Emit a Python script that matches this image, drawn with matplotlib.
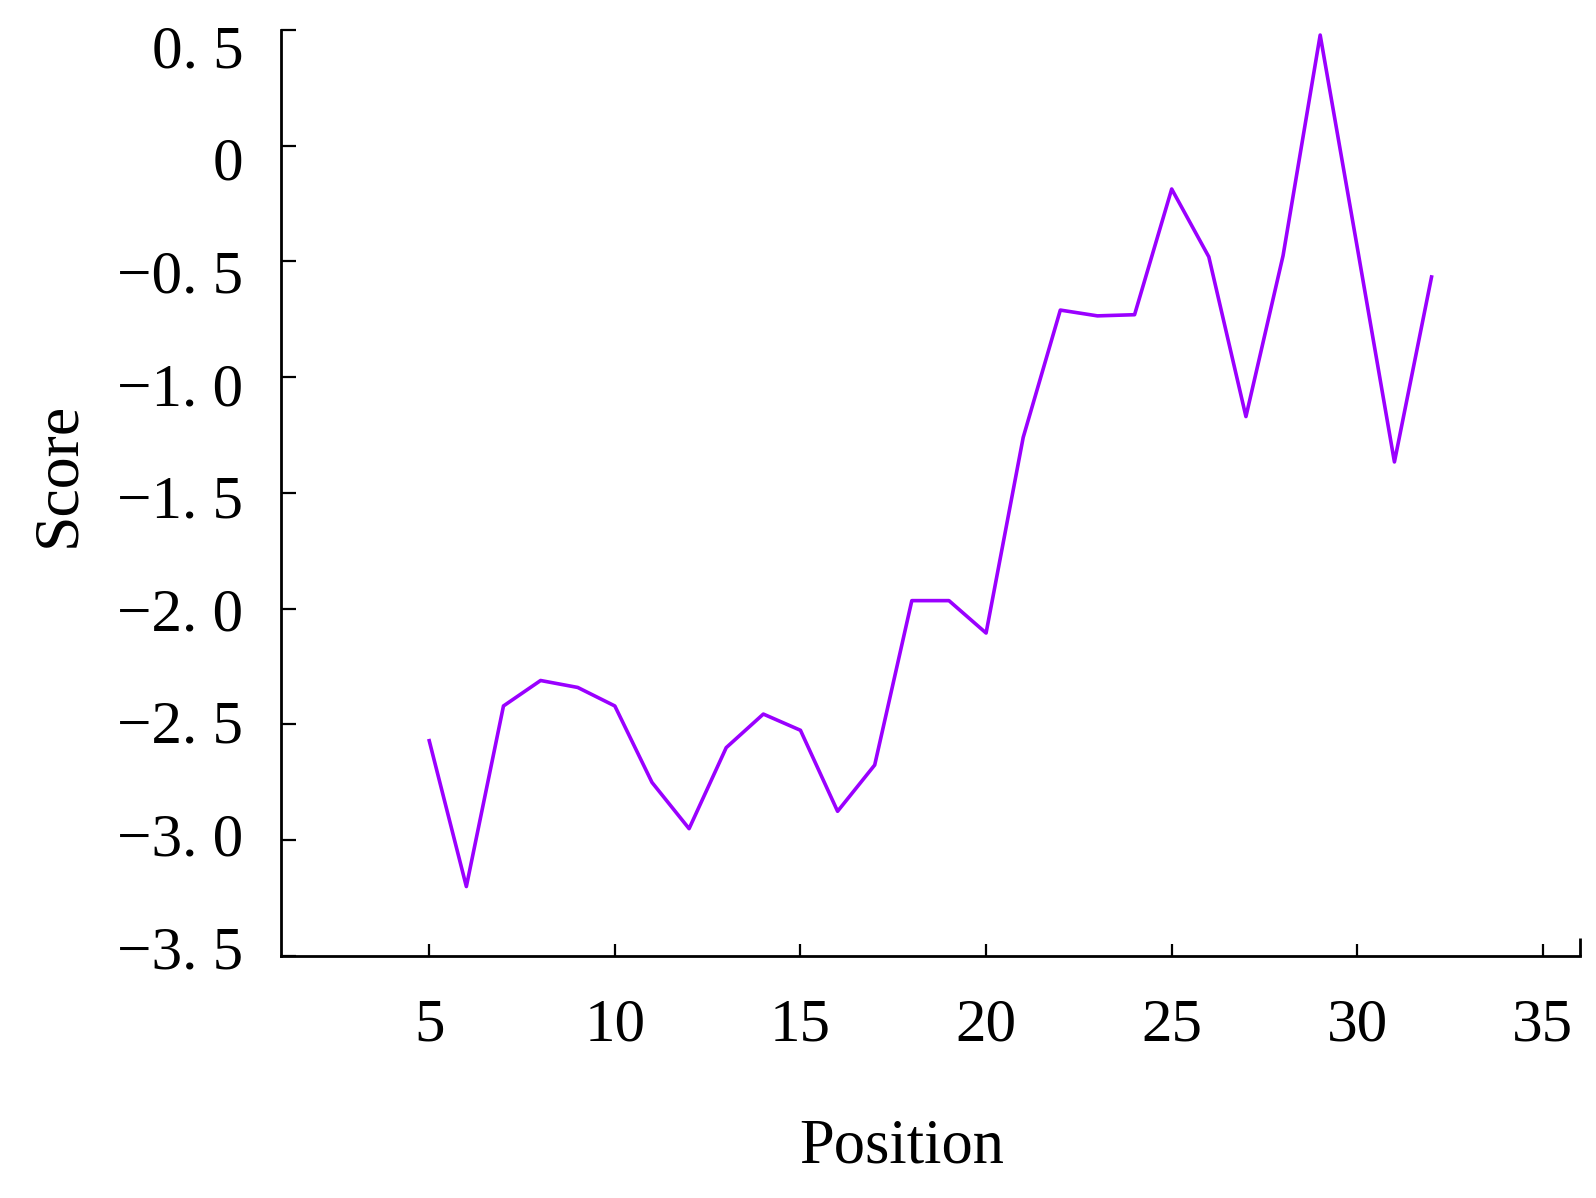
import matplotlib
matplotlib.use("Agg")
import matplotlib.pyplot as plt
from matplotlib.ticker import FixedLocator
from matplotlib.transforms import ScaledTranslation

positions = list(range(5, 33))
scores = [-2.57, -3.20, -2.42, -2.31, -2.34, -2.42, -2.75, -2.95, -2.60, -2.455,
          -2.525, -2.875, -2.675, -1.965, -1.965, -2.105, -1.26, -0.71, -0.735, -0.73,
          -0.187, -0.48, -1.17, -0.475, 0.478, -0.44, -1.366, -0.567]

y_ticks = [0.5, 0.0, -0.5, -1.0, -1.5, -2.0, -2.5, -3.0, -3.5]
y_tick_labels = ["0. 5", "0", "\u22120. 5", "\u22121. 0", "\u22121. 5", "\u22122. 0",
                 "\u22122. 5", "\u22123. 0", "\u22123. 5"]
x_ticks = [5, 10, 15, 20, 25, 30, 35]
x_tick_labels = ["5", "10", "15", "20", "25", "30", "35"]

plt.rcParams['font.family'] = ['Liberation Serif', 'DejaVu Serif']

fig = plt.figure(figsize=(15.96, 11.98), dpi=100)
ax = fig.add_axes([0.1759, 0.202, 0.99 - 0.1759, 0.975 - 0.202])

ax.plot(positions, scores, color='#9A00FF', linewidth=2.6)

ax.set_xlim(1, 36)
ax.set_ylim(-3.5, 0.5)

ax.spines['top'].set_visible(False)
ax.spines['right'].set_visible(False)
for s in ('left', 'bottom'):
    ax.spines[s].set_linewidth(2.0)

ax.yaxis.set_major_locator(FixedLocator(y_ticks))
ax.set_yticklabels(y_tick_labels)
ax.xaxis.set_major_locator(FixedLocator(x_ticks))
ax.set_xticklabels(x_tick_labels)
ax.xaxis.set_minor_locator(FixedLocator([36]))

ax.tick_params(axis='y', direction='in', length=11, width=1.6, labelsize=44, pad=27)
ax.tick_params(axis='x', direction='in', length=9, width=1.6, labelsize=44, pad=30)
ax.tick_params(axis='x', which='minor', direction='in', length=13, width=2.0)

# the reference's y labels sit slightly compressed relative to the ticks
n = len(y_ticks)
for i, lab in enumerate(ax.get_yticklabels()):
    dy_px = 16 - 25.0 * i / (n - 1)
    lab.set_transform(lab.get_transform() + ScaledTranslation(0, -dy_px / 100.0, fig.dpi_scale_trans))

ax.set_xlabel("Position", fontsize=45)
ax.set_ylabel("Score", fontsize=46)
ax.xaxis.set_label_coords(0.478, -0.175)
ax.yaxis.set_label_coords(-0.148, 0.52)

fig.savefig("out.png", dpi=100)
